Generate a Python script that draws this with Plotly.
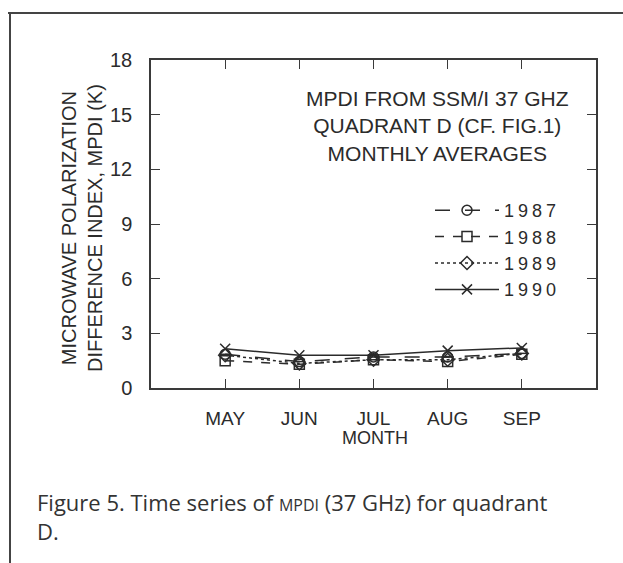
import plotly.graph_objects as go

# ---- data ----
months = ["MAY", "JUN", "JUL", "AUG", "SEP"]
years = ["1987", "1988", "1989", "1990"]
mpdi_1987 = [1.85, 1.45, 1.70, 1.70, 1.90]
mpdi_1988 = [1.50, 1.30, 1.55, 1.45, 1.85]
mpdi_1989 = [1.80, 1.35, 1.55, 1.55, 1.90]
mpdi_1990 = [2.15, 1.80, 1.80, 2.05, 2.20]
y_ticks = [0, 3, 6, 9, 12, 15, 18]

series = [mpdi_1987, mpdi_1988, mpdi_1989, mpdi_1990]
symbols = ["circle-open", "square-open", "diamond-open", "x-thin-open"]
dashes = ["longdash", "dash", "dot", "solid"]

INK = "#2b2b2b"
FONT = "Liberation Sans, Arial, Helvetica, sans-serif"

# plot-area geometry in pixels (used to place texts in paper coords)
W, H = 623, 563
L, R, T, B = 151, 596, 60, 388
def px(x):
    return (x - L) / (R - L)
def py(y):
    return (B - y) / (B - T)

fig = go.Figure()
for name, vals, sym, dash in zip(years, series, symbols, dashes):
    fig.add_trace(go.Scatter(
        x=months, y=vals, mode="lines+markers",
        name="<span style='letter-spacing:4px'>" + name + "</span>",
        line=dict(color=INK, width=1.5, dash=dash),
        marker=dict(symbol=sym, size=10, color=INK, line=dict(width=1.5, color=INK)),
    ))
    if name == "1987":
        # horizontal bar inside the circle (theta-like marker)
        fig.add_trace(go.Scatter(
            x=months, y=vals, mode="markers", showlegend=False, hoverinfo="skip",
            marker=dict(symbol="line-ew-open", size=9, color=INK, line=dict(width=1.5, color=INK)),
        ))

axis_common = dict(
    showline=True, linecolor="#3a3a3a", linewidth=1.5, mirror="ticks",
    ticks="inside", ticklen=9, tickwidth=1.3, tickcolor="#3a3a3a",
    showgrid=False, zeroline=False,
)

fig.update_xaxes(
    type="category", range=[-1, 5], tickfont=dict(family=FONT, size=19, color=INK),
    ticklabelstandoff=12, **axis_common,
)
fig.update_yaxes(
    range=[0, 18], tickvals=y_ticks, tickfont=dict(family=FONT, size=20, color=INK),
    ticklabelstandoff=13, **axis_common,
)

annotations = [
    dict(text="MICROWAVE POLARIZATION<br>DIFFERENCE INDEX, MPDI (K)",
         x=px(82), y=py(228), textangle=-90, xanchor="center", yanchor="middle",
         font=dict(family=FONT, size=20, color=INK), align="center"),
    dict(text="MONTH", x=px(375), y=py(438), xanchor="center", yanchor="middle",
         font=dict(family=FONT, size=18, color=INK)),
    dict(text="MPDI FROM SSM/I 37 GHZ<br>QUADRANT D (CF. FIG.1)<br>MONTHLY AVERAGES",
         x=px(437), y=py(126), xanchor="center", yanchor="middle", align="center",
         font=dict(family=FONT, size=21, color=INK)),
    dict(text="Figure 5. Time series of <span style='font-size:16px'>MPDI</span> (37 GHz) for quadrant",
         x=px(35), y=py(502), xanchor="left", yanchor="middle", align="left",
         font=dict(family="Open Sans, sans-serif", size=22, color="#333333")),
    dict(text="D.",
         x=px(35), y=py(531), xanchor="left", yanchor="middle", align="left",
         font=dict(family="Open Sans, sans-serif", size=22, color="#333333")),
]
for a in annotations:
    a.update(xref="paper", yref="paper", showarrow=False)

shapes = [
    dict(type="line", xref="paper", yref="paper", x0=px(8), x1=px(623), y0=py(13), y1=py(13),
         line=dict(color="#444444", width=2)),
    dict(type="line", xref="paper", yref="paper", x0=px(10), x1=px(10), y0=py(13), y1=py(563),
         line=dict(color="#444444", width=2)),
]

fig.update_layout(
    width=W, height=H,
    margin=dict(l=L, r=W - R, t=T, b=H - B, autoexpand=False),
    paper_bgcolor="white", plot_bgcolor="white",
    annotations=annotations, shapes=shapes,
    legend=dict(x=px(430), y=py(192), xanchor="left", yanchor="top",
                bgcolor="rgba(0,0,0,0)", font=dict(family=FONT, size=18, color=INK),
                itemwidth=64, tracegroupgap=0),
    showlegend=True,
)

fig.write_html("out.html")
